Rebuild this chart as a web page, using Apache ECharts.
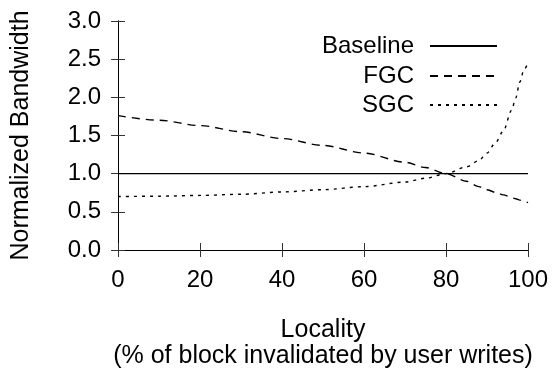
<!DOCTYPE html>
<html>
<head>
<meta charset="utf-8">
<script src="https://cdn.jsdelivr.net/npm/echarts@6/dist/echarts.min.js"></script>
<style>
  html, body { margin: 0; padding: 0; background: #fff; }
  #chart { width: 559px; height: 375px; }
</style>
</head>
<body>
<div id="chart"></div>
<script>
// locality (%) sample points
var locality = [0, 10, 20, 30, 40, 50, 60, 70, 75, 80, 85, 88, 90, 92, 94, 96, 97, 98, 99, 100];
var baseline = [1, 1, 1, 1, 1, 1, 1, 1, 1, 1, 1, 1, 1, 1, 1, 1, 1, 1, 1, 1];
var fgc = [1.76, 1.70, 1.63, 1.55, 1.46, 1.37, 1.27, 1.15, 1.08, 1.00, 0.90, 0.83, 0.79, 0.756, 0.722, 0.688, 0.671, 0.654, 0.637, 0.62];
var sgc = [0.70, 0.705, 0.715, 0.73, 0.76, 0.79, 0.83, 0.89, 0.94, 1.00, 1.09, 1.17, 1.27, 1.40, 1.56, 1.83, 1.99, 2.20, 2.36, 2.45];
var xTicks = [0, 20, 40, 60, 80, 100];
var yTicks = [0, 0.5, 1, 1.5, 2, 2.5, 3];

var font = '"Liberation Sans", Arial, sans-serif';

function pairs(ys) {
    return locality.map(function (x, i) { return [x, ys[i]]; });
}

var chart = echarts.init(document.getElementById('chart'));

var tickStyle = { show: true, inside: true, length: 7, lineStyle: { color: '#333', width: 1 } };
var lineAxis = { show: true, lineStyle: { color: '#000', width: 1 } };

function legendAt(name, top) {
    return {
        data: [name],
        right: 61,
        top: top,
        padding: 0,
        align: 'right',
        itemWidth: 67,
        itemHeight: 14,
        selectedMode: false,
        itemStyle: { opacity: 0 },
        textStyle: { fontFamily: font, fontSize: 24, color: '#000', padding: [0, 11, 0, 0] }
    };
}

var option = {
    animation: false,
    backgroundColor: '#fff',
    grid: { left: 118, right: 31, top: 21, bottom: 125 },
    legend: [
        legendAt('Baseline', 34),
        legendAt('FGC', 64),
        legendAt('SGC', 93)
    ],
    xAxis: [
        {
            type: 'value',
            min: 0, max: 100, interval: 20,
            axisLine: lineAxis,
            axisTick: tickStyle,
            splitLine: { show: false },
            axisLabel: {
                fontFamily: font, fontSize: 24, color: '#000', margin: 18,
                formatter: function (v) { return xTicks.indexOf(v) >= 0 ? String(v) : ''; }
            },
            name: 'Locality\n(% of block invalidated by user writes)',
            nameLocation: 'middle',
            nameGap: 67,
            nameTextStyle: { fontFamily: font, fontSize: 25, color: '#000', lineHeight: 26 }
        },
        {
            type: 'value', position: 'top',
            min: 0, max: 100, interval: 20,
            axisLine: lineAxis,
            axisTick: tickStyle,
            axisLabel: { show: false },
            splitLine: { show: false }
        }
    ],
    yAxis: [
        {
            type: 'value',
            min: 0, max: 3, interval: 0.5,
            axisLine: lineAxis,
            axisTick: tickStyle,
            splitLine: { show: false },
            axisLabel: {
                fontFamily: font, fontSize: 24, color: '#000', margin: 17,
                formatter: function (v) { return yTicks.indexOf(v) >= 0 ? v.toFixed(1) : ''; }
            },
            name: 'Normalized Bandwidth',
            nameLocation: 'middle',
            nameGap: 84,
            nameTextStyle: { fontFamily: font, fontSize: 25, color: '#000' }
        },
        {
            type: 'value', position: 'right',
            min: 0, max: 3, interval: 0.5,
            axisLine: lineAxis,
            axisTick: tickStyle,
            axisLabel: { show: false },
            splitLine: { show: false }
        }
    ],
    series: [
        {
            name: 'Baseline', type: 'line', data: pairs(baseline),
            symbol: 'none', color: '#000',
            lineStyle: { color: '#000', width: 1.2, type: 'solid' }
        },
        {
            name: 'FGC', type: 'line', data: pairs(fgc),
            symbol: 'none', color: '#000', smooth: 0.3, smoothMonotone: 'x',
            lineStyle: { color: '#000', width: 1.4, type: [8, 6] }
        },
        {
            name: 'SGC', type: 'line', data: pairs(sgc),
            symbol: 'none', color: '#000', smooth: 0.3, smoothMonotone: 'x',
            lineStyle: { color: '#000', width: 1.4, type: [3, 5] }
        }
    ]
};

chart.setOption(option);
</script>
</body>
</html>
